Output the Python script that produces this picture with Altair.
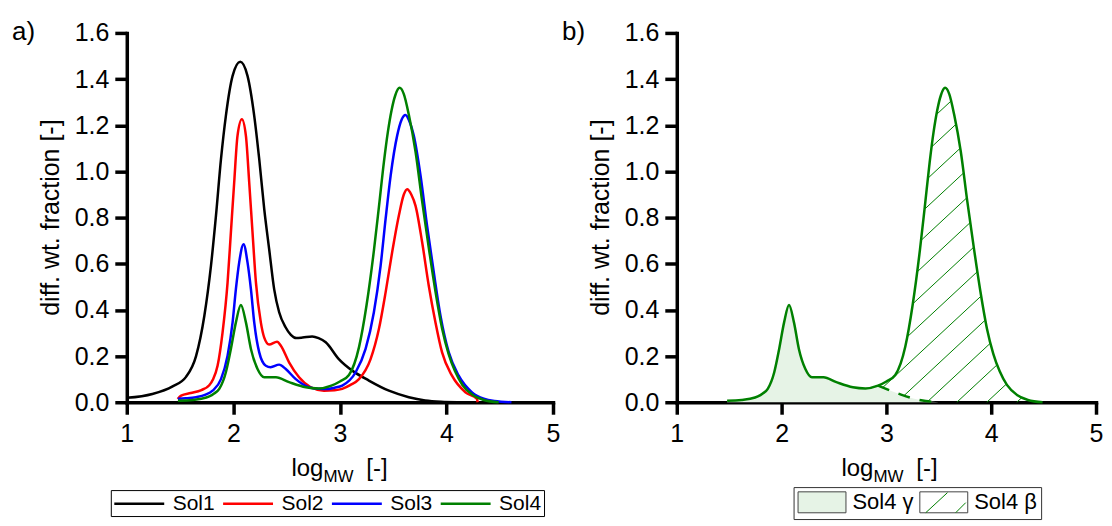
import altair as alt
import numpy as np
import pandas as pd

# ---------------- data ----------------
sol1_x = [1.0, 1.24, 1.43, 1.556, 1.65, 1.728, 1.79, 1.837, 1.884, 1.93, 1.993, 2.065,
          2.133, 2.196, 2.243, 2.29, 2.336, 2.383, 2.43, 2.49, 2.54, 2.59, 2.65, 2.74,
          2.80, 2.867, 2.99, 3.116, 3.272, 3.46, 3.647, 3.80, 3.95, 4.10]
sol1_y = [0.019, 0.036, 0.069, 0.11, 0.2, 0.375, 0.591, 0.808, 1.053, 1.241, 1.414, 1.475,
          1.414, 1.241, 1.053, 0.837, 0.664, 0.49, 0.39, 0.325, 0.292, 0.278, 0.28, 0.285,
          0.278, 0.26, 0.187, 0.137, 0.094, 0.05, 0.022, 0.008, 0.002, 0.0]

sol2_x = [1.478, 1.51, 1.60, 1.70, 1.774, 1.81, 1.852, 1.899, 1.946, 1.977, 2.008, 2.039,
          2.08, 2.118, 2.149, 2.18, 2.212, 2.258, 2.29, 2.336, 2.41, 2.446, 2.523, 2.617,
          2.726, 2.85, 2.95, 3.022, 3.10, 3.179, 3.288, 3.366, 3.429, 3.49, 3.553, 3.60,
          3.631, 3.67, 3.71, 3.772, 3.834, 3.897, 3.959, 4.052, 4.178, 4.287, 4.293]
sol2_y = [0.014, 0.029, 0.04, 0.053, 0.074, 0.1, 0.158, 0.303, 0.519, 0.736, 0.952, 1.154,
          1.226, 1.154, 0.952, 0.736, 0.519, 0.346, 0.28, 0.25, 0.262, 0.245, 0.173, 0.108,
          0.065, 0.05, 0.052, 0.058, 0.075, 0.10, 0.187, 0.317, 0.476, 0.649, 0.808, 0.90,
          0.923, 0.90, 0.851, 0.693, 0.505, 0.346, 0.216, 0.115, 0.043, 0.014, 0.0]

sol3_x = [1.48, 1.55, 1.65, 1.74, 1.805, 1.884, 1.946, 1.993, 2.024, 2.055, 2.096, 2.133,
          2.165, 2.196, 2.243, 2.305, 2.35, 2.43, 2.492, 2.586, 2.71, 2.80, 2.867, 2.95,
          3.022, 3.148, 3.241, 3.319, 3.382, 3.429, 3.476, 3.537, 3.58, 3.616, 3.65, 3.694,
          3.757, 3.818, 3.881, 3.944, 4.022, 4.115, 4.24, 4.35, 4.45, 4.61]
sol3_y = [0.015, 0.017, 0.022, 0.033, 0.05, 0.10, 0.202, 0.346, 0.49, 0.606, 0.685, 0.606,
          0.49, 0.346, 0.216, 0.158, 0.152, 0.163, 0.144, 0.10, 0.065, 0.058, 0.057, 0.063,
          0.072, 0.13, 0.231, 0.39, 0.591, 0.794, 0.981, 1.154, 1.225, 1.244, 1.22, 1.154,
          0.981, 0.765, 0.563, 0.375, 0.216, 0.115, 0.043, 0.015, 0.005, 0.0]

sol4_x = [1.48, 1.618, 1.70, 1.774, 1.82, 1.868, 1.93, 1.977, 2.024, 2.071, 2.118, 2.165,
          2.227, 2.29, 2.40, 2.523, 2.68, 2.80, 2.92, 3.0, 3.085, 3.18, 3.25, 3.32, 3.366,
          3.413, 3.45, 3.485, 3.52, 3.56, 3.60, 3.647, 3.71, 3.772, 3.834, 3.897, 3.959,
          4.02, 4.08, 4.15, 4.25, 4.35, 4.49]
sol4_y = [0.007, 0.01, 0.015, 0.025, 0.038, 0.058, 0.13, 0.231, 0.346, 0.421, 0.346, 0.231,
          0.144, 0.108, 0.108, 0.087, 0.065, 0.06, 0.072, 0.09, 0.118, 0.24, 0.42, 0.66, 0.845,
          1.04, 1.17, 1.265, 1.33, 1.362, 1.335, 1.245, 1.085, 0.87, 0.67, 0.48, 0.32,
          0.21, 0.135, 0.075, 0.03, 0.01, 0.0]

# deconvoluted gamma tail (dashed) of Sol4, from the junction with the curve
gamma_tail_x = [2.92, 3.03, 3.14, 3.265, 3.375, 3.5]
gamma_tail_y = [0.072, 0.052, 0.033, 0.015, 0.005, 0.0]

series_names = ["Sol1", "Sol2", "Sol3", "Sol4"]
series_colors = ["#000000", "#ff0000", "#0000ff", "#008000"]
comp_names = ["Sol4 \u03b3", "Sol4 \u03b2"]

x_ticks = [1, 2, 3, 4, 5]
y_ticks = [0.0, 0.2, 0.4, 0.6, 0.8, 1.0, 1.2, 1.4, 1.6]
y_title = "diff. wt. fraction [-]"

# ---------------- style ----------------
FONT = "Liberation Sans"
GREEN = "#008000"
GAMMA_FILL = "#e6f3e6"
W_A, W_B, H = 427, 420, 370
X_DOM, Y_DOM = [1, 5], [0, 1.6]
AX = dict(domainColor="black", domainWidth=3.5, domainCap="square", tickColor="black",
          tickWidth=3.5, tickSize=12, labelFontSize=25, labelFont=FONT, labelColor="black",
          grid=False, labelFlush=False)


def xenc():
    return alt.X("x:Q", scale=alt.Scale(domain=X_DOM, nice=False, zero=False),
                 axis=alt.Axis(values=x_ticks, format="d", title=None, labelPadding=7, **AX))


def yenc():
    return alt.Y("y:Q", scale=alt.Scale(domain=Y_DOM, nice=False),
                 axis=alt.Axis(values=y_ticks, format=".1f", title=None, labelPadding=6, **AX))


def txt(s, x, y, size, align="left", angle=0):
    return alt.Chart(pd.DataFrame({"t": [s]})).mark_text(
        align=align, baseline="alphabetic", fontSize=size, font=FONT, color="black", angle=angle
    ).encode(x=alt.value(x), y=alt.value(y), text="t:N")


def titles():
    return [txt("log", 165, 443.5, 24), txt("MW", 197, 450, 17), txt("[-]", 240, 443.5, 24),
            txt(y_title, -68, H / 2, 25, align="center", angle=270)]


# ---------------- panel a ----------------
rows = []
for name, xs, ys in zip(series_names, [sol1_x, sol2_x, sol3_x, sol4_x],
                        [sol1_y, sol2_y, sol3_y, sol4_y]):
    for xv, yv in zip(xs, ys):
        rows.append({"x": xv, "y": yv, "series": name})
df_a = pd.DataFrame(rows)

# legend line symbol: 50 px long line drawn from a 20 px symbol slot
LINE_SYM = "M-1,0H4"
lines_a = alt.Chart(df_a).mark_line(strokeWidth=2.5, interpolate="monotone").encode(
    x=xenc(), y=yenc(),
    color=alt.Color("series:N", scale=alt.Scale(domain=series_names, range=series_colors),
                    legend=alt.Legend(title=None, orient="none", legendX=-16, legendY=458,
                                      direction="horizontal", symbolType=LINE_SYM,
                                      symbolSize=400, symbolStrokeWidth=2.5,
                                      labelFontSize=21, labelFont=FONT, labelColor="black",
                                      labelOffset=37, columnPadding=2, padding=2,
                                      strokeColor="black", fillColor="white")),
)

panel_a = alt.layer(lines_a, txt("a)", -115, 7.5, 26), *titles()).properties(width=W_A, height=H)


# ---------------- panel b ----------------
def monotone_eval(xs, ys, xq):
    xs = np.asarray(xs, float)
    ys = np.asarray(ys, float)
    n = len(xs)
    h = np.diff(xs)
    s = np.diff(ys) / h
    t = np.zeros(n)
    for i in range(1, n - 1):
        h0, h1, s0, s1 = h[i - 1], h[i], s[i - 1], s[i]
        p = (s0 * h1 + s1 * h0) / (h0 + h1)
        t[i] = (np.sign(s0) + np.sign(s1)) * min(abs(s0), abs(s1), 0.5 * abs(p))
    t[0] = (3 * s[0] - t[1]) / 2
    t[-1] = (3 * s[-1] - t[-2]) / 2
    idx = np.clip(np.searchsorted(xs, xq) - 1, 0, n - 2)
    hh = h[idx]
    u = (xq - xs[idx]) / hh
    h00 = 2 * u ** 3 - 3 * u ** 2 + 1
    h10 = u ** 3 - 2 * u ** 2 + u
    h01 = -2 * u ** 3 + 3 * u ** 2
    h11 = u ** 3 - u ** 2
    return h00 * ys[idx] + h10 * hh * t[idx] + h01 * ys[idx + 1] + h11 * hh * t[idx + 1]


# hatch lines for the beta region (between gamma tail and Sol4 curve)
k = 0.93 * (W_B / 4) / (H / 1.6)
xf = np.linspace(gamma_tail_x[0], sol4_x[-1], 4000)
upper = monotone_eval(sol4_x, sol4_y, xf)
lower = np.where(xf <= gamma_tail_x[-1],
                 monotone_eval(gamma_tail_x, gamma_tail_y, np.clip(xf, gamma_tail_x[0], gamma_tail_x[-1])),
                 0.0)
hatch = []
for j in range(-16, 5):
    x0 = 3.672 + 0.286 * j
    yl = (xf - x0) * k
    m = (yl >= lower) & (yl <= upper) & (xf > gamma_tail_x[0] + 0.002)
    if m.sum() < 2:
        continue
    idx = np.where(m)[0]
    brk = np.where(np.diff(idx) > 1)[0]
    run = idx[: brk[0] + 1] if len(brk) else idx
    a, b = run[0], run[-1]
    hatch.append({"x": xf[a], "y": yl[a], "x2": xf[b], "y2": yl[b]})
df_hatch = pd.DataFrame(hatch)

g_x = [v for v in sol4_x if v < gamma_tail_x[0]] + gamma_tail_x
g_y = [v for xv, v in zip(sol4_x, sol4_y) if xv < gamma_tail_x[0]] + gamma_tail_y
df_gamma = pd.DataFrame({"x": g_x, "y": g_y})
df_tail = pd.DataFrame({"x": gamma_tail_x, "y": gamma_tail_y})
df_sol4 = pd.DataFrame({"x": sol4_x, "y": sol4_y})

gamma_area = alt.Chart(df_gamma).mark_area(color=GAMMA_FILL, interpolate="monotone").encode(
    x=xenc(), y=yenc())
hatch_rules = alt.Chart(df_hatch).mark_rule(color=GREEN, strokeWidth=1).encode(
    x="x:Q", y="y:Q", x2="x2:Q", y2="y2:Q")
sol4_line = alt.Chart(df_sol4).mark_line(color=GREEN, strokeWidth=2.5, interpolate="monotone").encode(
    x="x:Q", y="y:Q")
tail_line = alt.Chart(df_tail).mark_line(color=GREEN, strokeWidth=2.5, strokeDash=[12, 10],
                                         interpolate="monotone").encode(x="x:Q", y="y:Q")

# legend boxes 48x21 px drawn from a 21 px symbol slot (r = 10.5)
RECT = "M-1,-1H3.571V1H-1Z"
HATCH = "M-0.238,0.97L1.829,-0.94M2.619,0.97L3.571,0.017"
leg_df = pd.DataFrame({"comp": comp_names, "comp2": comp_names, "k": [0, 0]})
common_leg = dict(title=None, orient="none", legendX=117, legendY=455, direction="horizontal",
                  symbolSize=441, symbolStrokeWidth=1, labelFontSize=22, labelFont=FONT,
                  labelOffset=33, columnPadding=3, padding=4)
leg1 = alt.Legend(labelColor="black", strokeColor="#333333", **common_leg)
leg2 = alt.Legend(labelColor="transparent", strokeColor="transparent", **common_leg)

leg_boxes = alt.Chart(leg_df).transform_filter("datum.k > 0").mark_point(
    filled=True, size=441, strokeWidth=1, opacity=1).encode(
    shape=alt.Shape("comp:N", scale=alt.Scale(domain=comp_names, range=[RECT, RECT]), legend=leg1),
    fill=alt.Fill("comp:N", scale=alt.Scale(domain=comp_names, range=[GAMMA_FILL, "transparent"]), legend=leg1),
    stroke=alt.Stroke("comp:N", scale=alt.Scale(domain=comp_names, range=["#444444", "#444444"]), legend=leg1),
)
leg_hatch = alt.Chart(leg_df).transform_filter("datum.k > 0").mark_point(
    filled=False, size=441, strokeWidth=1, opacity=1).encode(
    shape=alt.Shape("comp2:N", scale=alt.Scale(domain=comp_names, range=[RECT, HATCH]), legend=leg2),
    stroke=alt.Stroke("comp2:N", scale=alt.Scale(domain=comp_names, range=["transparent", GREEN]), legend=leg2),
)

panel_b = alt.layer(
    gamma_area, hatch_rules, sol4_line, tail_line, leg_boxes, leg_hatch,
    txt("b)", -115, 7.5, 26), *titles()
).resolve_scale(shape="independent", fill="independent", stroke="independent").properties(
    width=W_B, height=H)

chart = alt.hconcat(panel_a, panel_b, spacing=0).properties(
    padding={"left": 3, "top": 10.5, "right": 0, "bottom": 0}
).configure(font=FONT).configure_view(stroke="transparent")

chart.save("out.html", embed_options={"renderer": "svg", "actions": False})
